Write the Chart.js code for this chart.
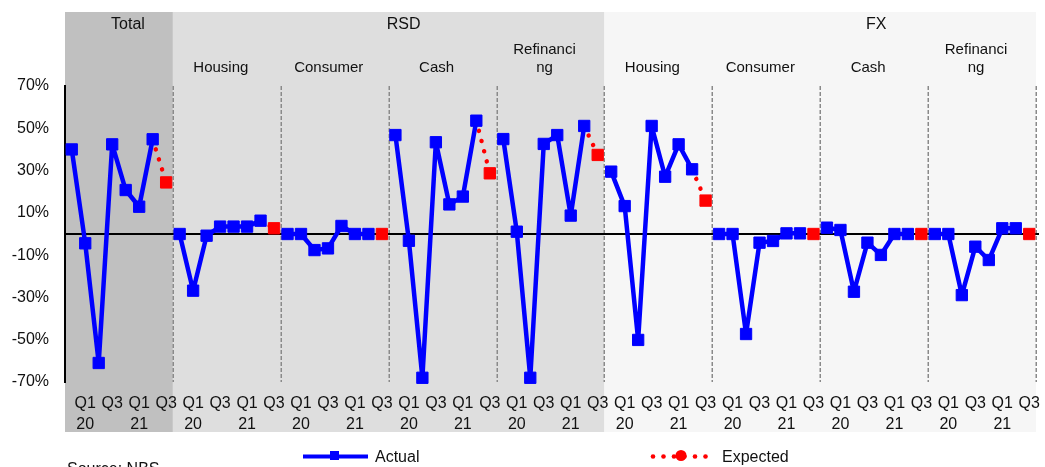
<!DOCTYPE html>
<html>
<head>
<meta charset="utf-8">
<script src="https://cdn.jsdelivr.net/npm/chart.js@4.4.1/dist/chart.umd.min.js"></script>
<style>
  html, body { margin: 0; padding: 0; background: #ffffff; }
  #wrap { width: 1045px; height: 467px; }
</style>
</head>
<body>
<div id="wrap"><canvas id="chart" width="1045" height="467"></canvas></div>
<script>
// Quarters shown in every segment; the last one is the expected quarter
const quarters = ['Q4 19', 'Q1 20', 'Q2 20', 'Q3 20', 'Q4 20', 'Q1 21', 'Q2 21', 'Q3 21'];
const quarterTicks = ['', ['Q1', '20'], '', 'Q3', '', ['Q1', '21'], '', 'Q3'];

// Currency blocks and the segments they contain
const blockNames = ['Total', 'RSD', 'FX'];
const blockSizes = [1, 4, 4];
const segmentNames = ['', 'Housing', 'Consumer', 'Cash', ['Refinanci', 'ng'],
                      'Housing', 'Consumer', 'Cash', ['Refinanci', 'ng']];

// Actual values, Q4 19 .. Q2 21 (%)
const actualTotal       = [40.0, -4.4, -61.0, 42.4, 20.8, 12.9, 44.8];
const actualRsdHousing  = [0.0, -26.8, -0.8, 3.5, 3.5, 3.5, 6.3];
const actualRsdConsumer = [0.0, 0.0, -7.6, -6.8, 3.8, 0.0, 0.0];
const actualRsdCash     = [46.8, -3.2, -68.0, 43.4, 14.0, 17.7, 53.6];
const actualRsdRefin    = [44.9, 1.1, -68.0, 42.6, 46.8, 8.7, 51.1];
const actualFxHousing   = [29.5, 13.2, -50.1, 51.1, 27.1, 42.4, 30.6];
const actualFxConsumer  = [0.0, 0.0, -47.3, -4.1, -3.3, 0.3, 0.3];
const actualFxCash      = [3.0, 1.9, -27.3, -4.1, -9.9, 0.0, 0.0];
const actualFxRefin     = [0.0, 0.0, -28.9, -6.0, -12.3, 2.7, 2.7];

// Expected values for Q3 21 (%), same segment order
const expectedQ3 = [24.4, 2.7, 0.0, 28.7, 37.4, 15.8, 0.0, 0.0, 0.0];

const actualSegments = [actualTotal, actualRsdHousing, actualRsdConsumer, actualRsdCash,
  actualRsdRefin, actualFxHousing, actualFxConsumer, actualFxCash, actualFxRefin];

// Y axis tick values (%)
const yTicks = [-70, -50, -30, -10, 10, 30, 50, 70];

// ---- build flat series for the category axis ----
const Q = quarters.length;
const labels = [];
const actualData = [];
const expectedData = [];
actualSegments.forEach((seg, s) => {
  quarters.forEach((q, i) => {
    labels.push(String(segmentNames[s]) + ' ' + q);
    actualData.push(i < seg.length ? seg[i] : null);
    if (i === seg.length - 1) expectedData.push(seg[i]);
    else if (i === Q - 1) expectedData.push(expectedQ3[s]);
    else expectedData.push(null);
  });
});

const FONT = "'Liberation Sans', Arial, sans-serif";
const TEXT = '#111111';
const BLUE = '#0000ff';
const RED = '#ff0000';
const blockFill = ['#c0c0c0', '#dedede', '#f6f6f6'];
const blockLabelShift = [9, 15, 56];

const decor = {
  id: 'decor',
  beforeDraw(chart) {
    const { ctx, chartArea: a, scales: { x } } = chart;
    const step = x.getPixelForValue(1) - x.getPixelForValue(0);
    const edge = i => x.getPixelForValue(i) - step / 2;
    ctx.save();
    // block backgrounds
    let g = 0;
    blockNames.forEach((name, b) => {
      const x0 = edge(g * Q);
      const x1 = edge((g + blockSizes[b]) * Q);
      ctx.fillStyle = blockFill[b];
      ctx.fillRect(x0, a.top - 74, x1 - x0, a.bottom - a.top + 124);
      ctx.fillStyle = TEXT;
      ctx.font = '16px ' + FONT;
      ctx.textAlign = 'center';
      ctx.textBaseline = 'middle';
      ctx.fillText(name, (x0 + x1) / 2 + blockLabelShift[b], a.top - 61);
      g += blockSizes[b];
    });
    // segment titles
    ctx.font = '15px ' + FONT;
    segmentNames.forEach((nm, s) => {
      if (!nm) return;
      const cx = (edge(s * Q) + edge((s + 1) * Q)) / 2 - 6;
      const lines = Array.isArray(nm) ? nm : [nm];
      lines.forEach((ln, k) => {
        ctx.fillText(ln, cx, a.top - 18 - (lines.length - 1 - k) * 18);
      });
    });
    ctx.restore();
  },
  beforeDatasetsDraw(chart) {
    const { ctx, chartArea: a, scales: { x, y } } = chart;
    const step = x.getPixelForValue(1) - x.getPixelForValue(0);
    ctx.save();
    // dashed separators between segments
    ctx.strokeStyle = '#8a8a8a';
    ctx.lineWidth = 1.5;
    ctx.setLineDash([4, 2]);
    for (let s = 1; s <= segmentNames.length; s++) {
      const px = Math.round(x.getPixelForValue(s * Q) - step / 2) + 0.25;
      ctx.beginPath();
      ctx.moveTo(px, a.top);
      ctx.lineTo(px, a.bottom);
      ctx.stroke();
    }
    // zero line
    ctx.setLineDash([]);
    ctx.strokeStyle = '#000000';
    ctx.lineWidth = 2;
    const y0 = y.getPixelForValue(0);
    ctx.beginPath();
    ctx.moveTo(a.left, y0);
    ctx.lineTo(a.right + 3, y0);
    ctx.stroke();
    ctx.restore();
  },
  afterDraw(chart) {
    const { ctx } = chart;
    ctx.save();
    const ly = 456.5;
    // Actual legend entry
    ctx.strokeStyle = BLUE;
    ctx.lineWidth = 4;
    ctx.beginPath();
    ctx.moveTo(303, ly);
    ctx.lineTo(368, ly);
    ctx.stroke();
    ctx.fillStyle = BLUE;
    ctx.fillRect(330, ly - 5.5, 9, 9);
    // Expected legend entry
    ctx.fillStyle = RED;
    for (let px = 653; px <= 712; px += 10.5) {
      ctx.beginPath();
      ctx.arc(px, ly, 2.3, 0, Math.PI * 2);
      ctx.fill();
    }
    ctx.beginPath();
    ctx.arc(681, ly - 1, 5.5, 0, Math.PI * 2);
    ctx.fill();
    // legend texts
    ctx.fillStyle = TEXT;
    ctx.font = '16px ' + FONT;
    ctx.textAlign = 'left';
    ctx.textBaseline = 'middle';
    ctx.fillText('Actual', 375, ly + 1);
    ctx.fillText('Expected', 722, ly + 1);
    // source note
    ctx.textBaseline = 'alphabetic';
    ctx.fillText('Source: NBS', 67, 474);
    ctx.restore();
  }
};

new Chart(document.getElementById('chart'), {
  type: 'line',
  data: {
    labels: labels,
    datasets: [
      {
        label: 'Expected',
        data: expectedData,
        borderColor: RED,
        borderWidth: 4.5,
        borderDash: [0.01, 10.5],
        borderCapStyle: 'round',
        pointStyle: 'rect',
        pointRadius: c => (c.dataIndex % Q === Q - 1 ? 8 : 0),
        pointBackgroundColor: RED,
        pointBorderColor: RED,
        pointBorderWidth: 1,
        spanGaps: false,
        tension: 0,
        clip: false,
        order: 2
      },
      {
        label: 'Actual',
        data: actualData,
        borderColor: BLUE,
        borderWidth: 4.5,
        borderJoinStyle: 'round',
        pointStyle: 'rect',
        pointRadius: 8,
        pointBackgroundColor: BLUE,
        pointBorderColor: BLUE,
        pointBorderWidth: 1,
        spanGaps: false,
        tension: 0,
        clip: false,
        order: 1
      }
    ]
  },
  options: {
    responsive: false,
    animation: false,
    events: [],
    layout: { padding: { top: 86, right: 8, left: 0, bottom: 0 } },
    plugins: { legend: { display: false }, tooltip: { enabled: false } },
    scales: {
      x: {
        type: 'category',
        offset: true,
        grid: { display: false, drawTicks: false, offset: true },
        border: { display: false },
        ticks: {
          autoSkip: false,
          minRotation: 0,
          maxRotation: 0,
          padding: 11,
          color: TEXT,
          font: { family: FONT, size: 16, lineHeight: 1.3125 },
          callback: (v, i) => quarterTicks[i % Q]
        },
        afterFit: s => { s.height = 85; s.paddingLeft = 0; s.paddingRight = 0; }
      },
      y: {
        min: -70,
        max: 70,
        afterBuildTicks: s => { s.ticks = yTicks.map(v => ({ value: v })); },
        grid: { display: false, drawTicks: false },
        border: { display: true, color: '#000000', width: 2 },
        ticks: {
          padding: 16,
          color: TEXT,
          font: { family: FONT, size: 16 },
          callback: v => v + '%'
        },
        afterFit: s => { s.width = 65; }
      }
    }
  },
  plugins: [decor]
});
</script>
</body>
</html>
